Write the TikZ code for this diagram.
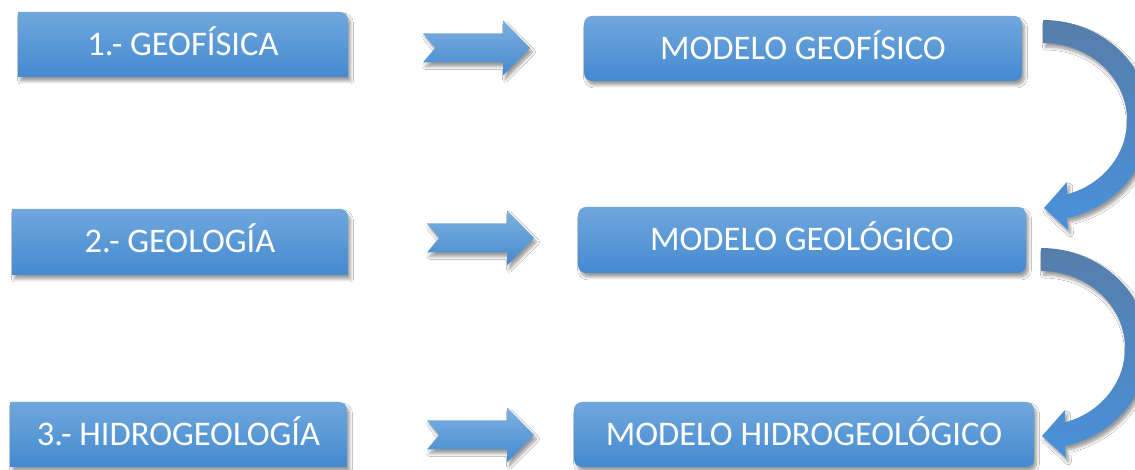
\documentclass[tikz,border=0pt]{standalone}
\usepackage{fontspec}
\setmainfont{Carlito}
\usetikzlibrary{shadows.blur,calc}
\definecolor{boxtop}{RGB}{112,167,221}
\definecolor{boxbot}{RGB}{68,138,208}
\definecolor{curvtop}{RGB}{86,126,170}
\definecolor{curvbot}{RGB}{74,145,218}
\tikzset{
  shad/.style={blur shadow={shadow xshift=2.5pt, shadow yshift=-4pt, shadow blur radius=3pt, shadow blur steps=6, shadow opacity=40}},
  lbl/.style={inner sep=0pt, text=white, font=\fontsize{34.5pt}{40pt}\selectfont, text height=22pt, text depth=0pt},
  lbox/.style={top color=boxtop, bottom color=boxbot, draw=none, shad},
  rbox/.style={lbl, rounded corners=8pt, top color=boxtop, bottom color=boxbot, draw=none, shad},
  chevfill/.style={top color=boxtop!90!white, bottom color=boxbot, draw=none, shad},
  curvfill/.style={top color=curvtop, bottom color=curvbot, draw=none, shad},
  chev/.pic={\path[chevfill] (0,14.5) -- (80,14.5) -- (80,27.5) -- (107,0) -- (80,-27.5) -- (80,-14.5) -- (0,-14.5) -- (12,0) -- cycle;},
  curv/.pic={\path[curvfill] (0,0) arc[start angle=90, end angle=-77.0, x radius=107pt, y radius=100.3pt]
      -- (25,-210) -- (1,-188) -- (24,-162) -- (24,-174.4)
      arc[start angle=-73.4, end angle=90, x radius=84pt, y radius=77.3pt] -- cycle;}
}
\newcommand\LeftBoxShape[4]{% x1, y1, x2, y2 (y up)
  \path[lbox] (#1,#2) -- (#1,#4) -- ({#3-8},#4) arc[start angle=90, end angle=0, radius=8pt] -- (#3,#2) -- cycle;}
\begin{document}
\begin{tikzpicture}[x=1pt,y=1pt]
\fill[white] (0,0) rectangle (1135,470);
\useasboundingbox (0,0) rectangle (1135,470);

% left boxes
\LeftBoxShape{18}{393}{348}{458}
\LeftBoxShape{12}{195}{348}{261}
\LeftBoxShape{10}{3}{347}{68}
\node[lbl] (g1) at (183,425.5) {1.- GEOFÍSICA};
\node[lbl] (g2) at (180,228) {2.- GEOLOGÍA};
\node[lbl] (g3) at (178.5,35.5) {3.- HIDROGEOLOGÍA};

% right boxes
\node[rbox, minimum width=438pt, minimum height=65pt] (m1) at (803,421.5) {MODELO GEOFÍSICO};
\node[rbox, minimum width=448pt, minimum height=66pt] (m2) at (802,230) {MODELO GEOLÓGICO};
\node[rbox, minimum width=460pt, minimum height=65pt] (m3) at (804,35.5) {MODELO HIDROGEOLÓGICO};

% chevrons
\pic at (423,422) {chev};
\pic at (427,232) {chev};
\pic at (427,35) {chev};

% curved arrows
\pic at (1043,450) {curv};
\pic at (1041,222) {curv};
\end{tikzpicture}
\end{document}
